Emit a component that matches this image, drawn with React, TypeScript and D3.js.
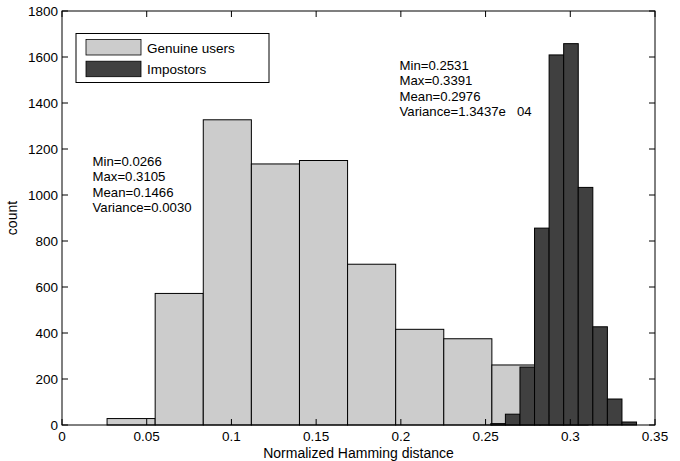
import React from "react";
import { scaleLinear } from "d3";

// histogram counts (10 bins each, MATLAB hist style)
const genuineCounts = [28, 572, 1327, 1135, 1150, 699, 416, 375, 261, 40];
const genuineRange = [0.0266, 0.3105];
const impostorCounts = [6, 47, 252, 856, 1609, 1658, 1033, 427, 113, 13];
const impostorRange = [0.2531, 0.3391];

const xTicks = [0, 0.05, 0.1, 0.15, 0.2, 0.25, 0.3, 0.35];
const yTicks = [0, 200, 400, 600, 800, 1000, 1200, 1400, 1600, 1800];

const genuineStats = ["Min=0.0266", "Max=0.3105", "Mean=0.1466", "Variance=0.0030"];
const impostorStats = ["Min=0.2531", "Max=0.3391", "Mean=0.2976", "Variance=1.3437e   04"];

const legendItems = [
  { label: "Genuine users", color: "#cccccc" },
  { label: "Impostors", color: "#404040" },
];

const W = 680;
const H = 461;
const margin = { left: 62, right: 25, top: 11, bottom: 36 };
const FONT = "'Liberation Sans', Arial, Helvetica, sans-serif";

const toBins = (counts: number[], [lo, hi]: number[]) => {
  const w = (hi - lo) / counts.length;
  return counts.map((c, i) => ({ x0: lo + i * w, x1: lo + (i + 1) * w, c }));
};

const App = () => {
  const x = scaleLinear().domain([0, 0.35]).range([margin.left, W - margin.right]);
  const y = scaleLinear().domain([0, 1800]).range([H - margin.bottom, margin.top]);
  const [x0, x1] = x.range();
  const [yb, yt] = y.range();
  const tick = 6;

  const bars = (counts: number[], rng: number[], fill: string) =>
    toBins(counts, rng).map((b, i) => (
      <rect
        key={fill + i}
        x={x(b.x0)}
        y={y(b.c)}
        width={x(b.x1) - x(b.x0)}
        height={y(0) - y(b.c)}
        fill={fill}
        stroke="#000"
        strokeWidth={1}
      />
    ));

  return (
    <svg
      width={W}
      height={H}
      style={{ position: "absolute", left: 0, top: 0, background: "#fff" }}
      fontFamily={FONT}
      fontSize={13.5}
    >
      {bars(genuineCounts, genuineRange, "#cccccc")}
      {bars(impostorCounts, impostorRange, "#404040")}

      {/* box + ticks */}
      <rect x={x0} y={yt} width={x1 - x0} height={yb - yt} fill="none" stroke="#000" strokeWidth={1} />
      {xTicks.map((t) => (
        <g key={"xt" + t}>
          <line x1={x(t)} x2={x(t)} y1={yb} y2={yb - tick} stroke="#000" />
          <line x1={x(t)} x2={x(t)} y1={yt} y2={yt + tick} stroke="#000" />
          <text x={x(t)} y={yb + 16} textAnchor="middle" fill="#000">
            {String(t)}
          </text>
        </g>
      ))}
      {yTicks.map((t) => (
        <g key={"yt" + t}>
          <line x1={x0} x2={x0 + tick} y1={y(t)} y2={y(t)} stroke="#000" />
          <line x1={x1} x2={x1 - tick} y1={y(t)} y2={y(t)} stroke="#000" />
          <text x={x0 - 4} y={y(t) + 4.5} textAnchor="end" fill="#000">
            {t}
          </text>
        </g>
      ))}

      <text x={(x0 + x1) / 2} y={H - 3.5} textAnchor="middle" fill="#000" fontSize={14}>
        Normalized Hamming distance
      </text>
      <text transform={`translate(17,${(yt + yb) / 2}) rotate(-90)`} textAnchor="middle" fill="#000" fontSize={14}>
        count
      </text>

      {/* legend */}
      <rect x={76} y={33.5} width={193} height={49} fill="#fff" stroke="#000" />
      {legendItems.map((d, i) => (
        <g key={d.label}>
          <rect x={86} y={39.5 + i * 21.7} width={55} height={15.5} fill={d.color} stroke="#000" strokeWidth={0.8} />
          <text x={147} y={52.5 + i * 21.7} fill="#000">
            {d.label}
          </text>
        </g>
      ))}

      {/* stats annotations */}
      {genuineStats.map((s, i) => (
        <text key={s} x={92.5} y={165.5 + i * 15.6} fill="#000" fontSize={13.2}>
          {s}
        </text>
      ))}
      {impostorStats.map((s, i) => (
        <text key={s} x={399.5} y={69.5 + i * 15.6} fill="#000" fontSize={13.2} style={{ whiteSpace: "pre" }}>
          {s}
        </text>
      ))}
    </svg>
  );
};

export default App;
